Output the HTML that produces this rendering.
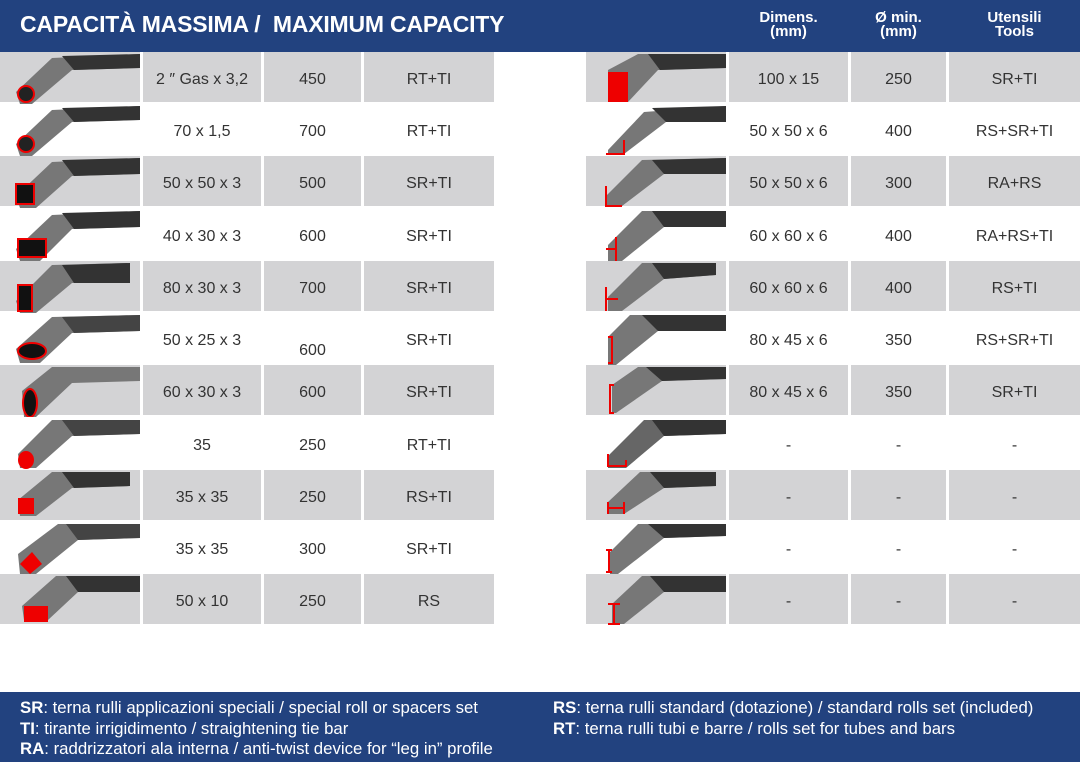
<!DOCTYPE html>
<html><head><meta charset="utf-8"><style>
body{margin:0;width:1080px;height:762px;position:relative;background:#fff;font-family:"Liberation Sans",sans-serif;overflow:hidden}
.hd{position:absolute;left:0;top:0;width:1080px;height:52px;background:#22427f}
.t{position:absolute;left:20px;top:11px;color:#fff;font-weight:bold;font-size:23px;letter-spacing:-0.2px}
.ch{position:absolute;top:11px;color:#fff;font-weight:bold;font-size:15px;line-height:14px;text-align:center}
.c{position:absolute;height:50px;line-height:55px;text-align:center;font-size:16px;color:#333}
.g{background:#d3d3d5}
svg{position:absolute}
.ft{position:absolute;left:0;top:692px;width:1080px;height:70px;background:#22427f;color:#fff;font-size:16.8px}
.ft div{position:absolute;white-space:nowrap;line-height:20.5px}
</style></head><body>
<div class="hd"><div class="t">CAPACITÀ MASSIMA /&nbsp; MAXIMUM CAPACITY</div>
<div class="ch" style="left:729px;width:119px">Dimens.<br>(mm)</div>
<div class="ch" style="left:851px;width:95px">Ø min.<br>(mm)</div>
<div class="ch" style="left:949px;width:131px">Utensili<br>Tools</div>
</div>

<!-- left rows -->
<div class="c g" style="left:0;top:52px;width:140px"></div><div class="c g" style="left:143px;top:52px;width:118px">2 ″ Gas x 3,2</div><div class="c g" style="left:264px;top:52px;width:97px">450</div><div class="c g" style="left:364px;top:52px;width:130px">RT+TI</div>
<div class="c" style="left:143px;top:104px;width:118px">70 x 1,5</div><div class="c" style="left:264px;top:104px;width:97px">700</div><div class="c" style="left:364px;top:104px;width:130px">RT+TI</div>
<div class="c g" style="left:0;top:156px;width:140px"></div><div class="c g" style="left:143px;top:156px;width:118px">50 x 50 x 3</div><div class="c g" style="left:264px;top:156px;width:97px">500</div><div class="c g" style="left:364px;top:156px;width:130px">SR+TI</div>
<div class="c" style="left:143px;top:209px;width:118px">40 x 30 x 3</div><div class="c" style="left:264px;top:209px;width:97px">600</div><div class="c" style="left:364px;top:209px;width:130px">SR+TI</div>
<div class="c g" style="left:0;top:261px;width:140px"></div><div class="c g" style="left:143px;top:261px;width:118px">80 x 30 x 3</div><div class="c g" style="left:264px;top:261px;width:97px">700</div><div class="c g" style="left:364px;top:261px;width:130px">SR+TI</div>
<div class="c" style="left:143px;top:313px;width:118px">50 x 25 x 3</div><div class="c" style="left:264px;top:323px;width:97px">600</div><div class="c" style="left:364px;top:313px;width:130px">SR+TI</div>
<div class="c g" style="left:0;top:365px;width:140px"></div><div class="c g" style="left:143px;top:365px;width:118px">60 x 30 x 3</div><div class="c g" style="left:264px;top:365px;width:97px">600</div><div class="c g" style="left:364px;top:365px;width:130px">SR+TI</div>
<div class="c" style="left:143px;top:418px;width:118px">35</div><div class="c" style="left:264px;top:418px;width:97px">250</div><div class="c" style="left:364px;top:418px;width:130px">RT+TI</div>
<div class="c g" style="left:0;top:470px;width:140px"></div><div class="c g" style="left:143px;top:470px;width:118px">35 x 35</div><div class="c g" style="left:264px;top:470px;width:97px">250</div><div class="c g" style="left:364px;top:470px;width:130px">RS+TI</div>
<div class="c" style="left:143px;top:522px;width:118px">35 x 35</div><div class="c" style="left:264px;top:522px;width:97px">300</div><div class="c" style="left:364px;top:522px;width:130px">SR+TI</div>
<div class="c g" style="left:0;top:574px;width:140px"></div><div class="c g" style="left:143px;top:574px;width:118px">50 x 10</div><div class="c g" style="left:264px;top:574px;width:97px">250</div><div class="c g" style="left:364px;top:574px;width:130px">RS</div>

<!-- right rows -->
<div class="c g" style="left:586px;top:52px;width:140px"></div><div class="c g" style="left:729px;top:52px;width:119px">100 x 15</div><div class="c g" style="left:851px;top:52px;width:95px">250</div><div class="c g" style="left:949px;top:52px;width:131px">SR+TI</div>
<div class="c" style="left:729px;top:104px;width:119px">50 x 50 x 6</div><div class="c" style="left:851px;top:104px;width:95px">400</div><div class="c" style="left:949px;top:104px;width:131px">RS+SR+TI</div>
<div class="c g" style="left:586px;top:156px;width:140px"></div><div class="c g" style="left:729px;top:156px;width:119px">50 x 50 x 6</div><div class="c g" style="left:851px;top:156px;width:95px">300</div><div class="c g" style="left:949px;top:156px;width:131px">RA+RS</div>
<div class="c" style="left:729px;top:209px;width:119px">60 x 60 x 6</div><div class="c" style="left:851px;top:209px;width:95px">400</div><div class="c" style="left:949px;top:209px;width:131px">RA+RS+TI</div>
<div class="c g" style="left:586px;top:261px;width:140px"></div><div class="c g" style="left:729px;top:261px;width:119px">60 x 60 x 6</div><div class="c g" style="left:851px;top:261px;width:95px">400</div><div class="c g" style="left:949px;top:261px;width:131px">RS+TI</div>
<div class="c" style="left:729px;top:313px;width:119px">80 x 45 x 6</div><div class="c" style="left:851px;top:313px;width:95px">350</div><div class="c" style="left:949px;top:313px;width:131px">RS+SR+TI</div>
<div class="c g" style="left:586px;top:365px;width:140px"></div><div class="c g" style="left:729px;top:365px;width:119px">80 x 45 x 6</div><div class="c g" style="left:851px;top:365px;width:95px">350</div><div class="c g" style="left:949px;top:365px;width:131px">SR+TI</div>
<div class="c" style="left:729px;top:418px;width:119px">-</div><div class="c" style="left:851px;top:418px;width:95px">-</div><div class="c" style="left:949px;top:418px;width:131px">-</div>
<div class="c g" style="left:586px;top:470px;width:140px"></div><div class="c g" style="left:729px;top:470px;width:119px">-</div><div class="c g" style="left:851px;top:470px;width:95px">-</div><div class="c g" style="left:949px;top:470px;width:131px">-</div>
<div class="c" style="left:729px;top:522px;width:119px">-</div><div class="c" style="left:851px;top:522px;width:95px">-</div><div class="c" style="left:949px;top:522px;width:131px">-</div>
<div class="c g" style="left:586px;top:574px;width:140px"></div><div class="c g" style="left:729px;top:574px;width:119px">-</div><div class="c g" style="left:851px;top:574px;width:95px">-</div><div class="c g" style="left:949px;top:574px;width:131px">-</div>

<!-- icons left -->
<svg style="left:0;top:52px" width="140" height="52"><path d="M16 40 L52 6 L140 2 L140 16 L72 18 L32 52 L20 52Z" fill="#777"/><path d="M62 4 L140 2 L140 16 L74 18Z" fill="#333"/><circle cx="26" cy="42" r="8" fill="#222" stroke="#e00" stroke-width="2"/></svg>
<svg style="left:0;top:104px" width="140" height="52"><path d="M16 40 L52 6 L140 2 L140 16 L72 18 L32 52 L20 52Z" fill="#777"/><path d="M62 4 L140 2 L140 16 L74 18Z" fill="#333"/><circle cx="26" cy="40" r="8" fill="#222" stroke="#e00" stroke-width="2"/></svg>
<svg style="left:0;top:156px" width="140" height="52"><path d="M16 40 L52 6 L140 2 L140 18 L72 20 L36 52 L20 52Z" fill="#777"/><path d="M62 4 L140 2 L140 18 L74 20Z" fill="#333"/><rect x="16" y="28" width="18" height="20" fill="#111" stroke="#e00" stroke-width="2"/></svg>
<svg style="left:0;top:209px" width="140" height="52"><path d="M16 40 L52 6 L140 2 L140 18 L72 20 L40 52 L20 52Z" fill="#777"/><path d="M62 4 L140 2 L140 18 L74 20Z" fill="#333"/><rect x="18" y="30" width="28" height="18" fill="#111" stroke="#e00" stroke-width="2"/></svg>
<svg style="left:0;top:261px" width="140" height="52"><path d="M16 40 L52 4 L130 2 L130 22 L72 22 L36 52 L20 52Z" fill="#777"/><path d="M62 4 L130 2 L130 22 L74 22Z" fill="#333"/><rect x="18" y="24" width="14" height="26" fill="#111" stroke="#e00" stroke-width="2"/></svg>
<svg style="left:0;top:313px" width="140" height="52"><path d="M16 36 L52 4 L140 2 L140 18 L72 20 L40 50 L20 50Z" fill="#777"/><path d="M62 4 L140 2 L140 18 L74 20Z" fill="#444"/><ellipse cx="32" cy="38" rx="14" ry="8" fill="#111" stroke="#e00" stroke-width="2"/></svg>
<svg style="left:0;top:365px" width="140" height="52"><path d="M22 26 L52 2 L140 2 L140 16 L72 18 L36 52 L24 52Z" fill="#777"/><ellipse cx="30" cy="38" rx="7" ry="14" fill="#111" stroke="#e00" stroke-width="2"/></svg>
<svg style="left:0;top:418px" width="140" height="52"><path d="M18 36 L52 2 L140 2 L140 16 L72 18 L36 50 L20 50Z" fill="#777"/><path d="M62 2 L140 2 L140 16 L74 18Z" fill="#444"/><ellipse cx="26" cy="42" rx="8" ry="9" fill="#e00"/></svg>
<svg style="left:0;top:470px" width="140" height="52"><path d="M18 30 L52 2 L130 2 L130 16 L72 18 L36 46 L20 46Z" fill="#777"/><path d="M62 2 L130 2 L130 16 L74 18Z" fill="#333"/><rect x="18" y="28" width="16" height="16" fill="#e00"/></svg>
<svg style="left:0;top:522px" width="140" height="52"><path d="M18 32 L58 2 L140 2 L140 16 L78 18 L36 52 L20 52Z" fill="#777"/><path d="M66 2 L140 2 L140 16 L78 18Z" fill="#444"/><path d="M20 42 L32 30 L42 42 L30 52Z" fill="#e00"/></svg>
<svg style="left:0;top:574px" width="140" height="52"><path d="M22 32 L56 2 L140 2 L140 18 L78 18 L48 46 L24 46Z" fill="#777"/><path d="M66 2 L140 2 L140 18 L78 18Z" fill="#333"/><rect x="24" y="32" width="24" height="16" fill="#e00"/></svg>

<!-- icons right -->
<svg style="left:586px;top:52px" width="140" height="52"><path d="M22 18 L52 2 L140 2 L140 16 L72 18 L42 50 L22 50Z" fill="#777"/><path d="M62 2 L140 2 L140 16 L74 18Z" fill="#333"/><rect x="22" y="20" width="20" height="30" fill="#e00"/></svg>
<svg style="left:586px;top:104px" width="140" height="52"><path d="M22 46 L58 8 L140 2 L140 18 L80 18 L38 50 L22 50Z" fill="#777"/><path d="M66 4 L140 2 L140 18 L80 18Z" fill="#333"/><path d="M20 50 L38 50 L38 36" fill="none" stroke="#e00" stroke-width="2"/></svg>
<svg style="left:586px;top:156px" width="140" height="52"><path d="M20 40 L56 4 L140 2 L140 18 L78 18 L36 50 L20 50Z" fill="#777"/><path d="M66 4 L140 2 L140 18 L78 18Z" fill="#333"/><path d="M20 30 L20 50 L36 50" fill="none" stroke="#e00" stroke-width="2"/></svg>
<svg style="left:586px;top:209px" width="140" height="52"><path d="M22 36 L56 2 L140 2 L140 18 L78 18 L36 52 L22 52Z" fill="#777"/><path d="M66 2 L140 2 L140 18 L78 18Z" fill="#333"/><path d="M30 28 L30 52 M20 40 L30 40" fill="none" stroke="#e00" stroke-width="2"/></svg>
<svg style="left:586px;top:261px" width="140" height="52"><path d="M22 36 L56 2 L130 2 L130 14 L78 18 L36 50 L22 50Z" fill="#777"/><path d="M66 2 L130 2 L130 14 L78 18Z" fill="#333"/><path d="M20 26 L20 50 M20 38 L32 38" fill="none" stroke="#e00" stroke-width="2"/></svg>
<svg style="left:586px;top:313px" width="140" height="52"><path d="M22 24 L44 2 L140 2 L140 18 L72 18 L30 52 L22 52Z" fill="#777"/><path d="M56 2 L140 2 L140 18 L72 18Z" fill="#333"/><path d="M22 24 L26 24 L26 50 L22 50" fill="none" stroke="#e00" stroke-width="2"/></svg>
<svg style="left:586px;top:365px" width="140" height="52"><path d="M26 20 L52 2 L140 2 L140 14 L76 16 L30 48 L26 48Z" fill="#777"/><path d="M60 2 L140 2 L140 14 L76 16Z" fill="#333"/><path d="M28 20 L24 20 L24 48 L28 48" fill="none" stroke="#e00" stroke-width="2"/></svg>
<svg style="left:586px;top:418px" width="140" height="52"><path d="M22 38 L58 2 L140 2 L140 16 L78 18 L40 50 L22 50Z" fill="#666"/><path d="M66 2 L140 2 L140 16 L78 18Z" fill="#333"/><path d="M22 36 L22 48 L40 48 L40 42" fill="none" stroke="#e00" stroke-width="2"/></svg>
<svg style="left:586px;top:470px" width="140" height="52"><path d="M22 32 L54 2 L130 2 L130 16 L78 18 L38 44 L22 44Z" fill="#777"/><path d="M64 2 L130 2 L130 16 L78 18Z" fill="#333"/><path d="M22 32 L22 44 M22 38 L38 38 M38 32 L38 44" fill="none" stroke="#e00" stroke-width="2"/></svg>
<svg style="left:586px;top:522px" width="140" height="52"><path d="M24 30 L52 2 L140 2 L140 14 L78 16 L32 52 L24 52Z" fill="#777"/><path d="M62 2 L140 2 L140 14 L78 16Z" fill="#333"/><path d="M20 28 L26 28 M23 28 L23 50 M20 50 L26 50" fill="none" stroke="#e00" stroke-width="2"/></svg>
<svg style="left:586px;top:574px" width="140" height="52"><path d="M26 30 L56 2 L140 2 L140 18 L78 18 L38 50 L26 50Z" fill="#777"/><path d="M64 2 L140 2 L140 18 L78 18Z" fill="#333"/><path d="M22 30 L34 30 M28 30 L28 50 M22 50 L34 50" fill="none" stroke="#e00" stroke-width="2"/></svg>

<div class="ft">
<div style="left:20px;top:6px"><b>SR</b>: terna rulli applicazioni speciali / special roll or spacers set</div>
<div style="left:20px;top:26.5px"><b>TI</b>: tirante irrigidimento / straightening tie bar</div>
<div style="left:20px;top:47px"><b>RA</b>: raddrizzatori ala interna / anti-twist device for “leg in” profile</div>
<div style="left:553px;top:6px"><b>RS</b>: terna rulli standard (dotazione) / standard rolls set (included)</div>
<div style="left:553px;top:26.5px"><b>RT</b>: terna rulli tubi e barre / rolls set for tubes and bars</div>
</div>
</body></html>
